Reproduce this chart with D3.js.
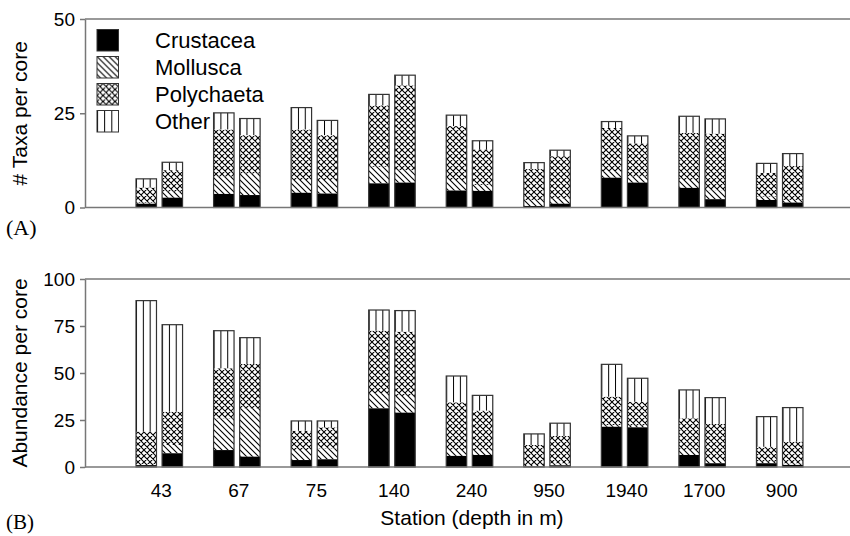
<!DOCTYPE html>
<html>
<head>
<meta charset="utf-8">
<script src="https://cdn.jsdelivr.net/npm/d3@7"></script>
<style>
  body { margin: 0; background: #fff; }
  text { font-family: "Liberation Sans", Arial, sans-serif; fill: #000; }
</style>
</head>
<body>
<div id="chart"></div>
<script>
// stations (depth in m), two cores per station
var stations = ["43", "67", "75", "140", "240", "950", "1940", "1700", "900"];
var cores = [0, 1];
var taxa = ["Crustacea", "Mollusca", "Polychaeta", "Other"];

// panel A: # taxa per core, station order core1, core2, ...
var taxaCrustacea  = [1.0, 2.6, 3.6, 3.3, 3.9, 3.7, 6.4, 6.6, 4.5, 4.4, 0.4, 1.0, 7.9, 6.6, 5.2, 2.2, 2.0, 1.3];
var taxaMollusca   = [0.3, 1.6, 4.6, 5.7, 3.4, 3.6, 4.4, 3.3, 2.8, 1.6, 1.6, 1.4, 1.6, 1.6, 2.1, 2.4, 0.9, 0.7];
var taxaPolychaeta = [4.0, 5.7, 12.5, 10.2, 13.4, 11.9, 16.3, 22.5, 14.3, 9.4, 8.2, 11.2, 11.6, 8.8, 12.5, 15.0, 6.3, 9.0];
var taxaOther      = [2.3, 2.1, 4.4, 4.4, 5.8, 3.9, 2.9, 2.7, 2.9, 2.3, 1.7, 1.6, 1.7, 2.0, 4.4, 3.9, 2.5, 3.3];

// panel B: abundance per core
var abunCrustacea  = [1.0, 7.3, 9.0, 5.5, 3.7, 4.1, 31.2, 28.9, 5.9, 6.4, 0.3, 0.9, 21.4, 21.1, 6.4, 2.0, 2.0, 1.1];
var abunMollusca   = [0.6, 4.4, 16.9, 25.7, 5.3, 5.8, 8.0, 8.9, 3.1, 2.6, 0.8, 1.1, 0.9, 0.9, 2.6, 1.7, 0.8, 0.9];
var abunPolychaeta = [17.2, 17.7, 26.6, 23.6, 10.3, 11.2, 33.3, 34.2, 25.4, 21.0, 10.6, 14.5, 15.1, 12.7, 16.9, 19.2, 8.0, 11.5];
var abunOther      = [69.7, 46.3, 20.0, 14.0, 5.2, 3.4, 11.0, 11.2, 14.0, 8.1, 5.9, 6.8, 17.2, 12.5, 15.1, 14.0, 16.0, 18.1];

var taxaTicks = [0, 25, 50];
var abunTicks = [0, 25, 50, 75, 100];

var W = 850, H = 536;
var svg = d3.select("#chart").append("svg")
    .attr("width", W)
    .attr("height", H);

// fill patterns
var defs = svg.append("defs");
var diag = defs.append("pattern")
    .attr("id", "pat-moll")
    .attr("patternUnits", "userSpaceOnUse")
    .attr("width", 6).attr("height", 6);
diag.append("path")
    .attr("d", "M0,0L6,6M-1,5L1,7M5,-1L7,1")
    .attr("stroke", "#000").attr("stroke-width", 1.1);

var cross = defs.append("pattern")
    .attr("id", "pat-poly")
    .attr("patternUnits", "userSpaceOnUse")
    .attr("width", 6).attr("height", 6);
cross.append("path")
    .attr("d", "M0,0L6,6M-1,5L1,7M5,-1L7,1M0,6L6,0M-1,1L1,-1M5,7L7,5")
    .attr("stroke", "#000").attr("stroke-width", 1.1);

// vertical lines: 3 tiles across each bar so lines sit at 1/3 and 2/3
var vert = defs.append("pattern")
    .attr("id", "pat-other")
    .attr("patternUnits", "objectBoundingBox")
    .attr("width", 1 / 3).attr("height", 1);
vert.append("rect").attr("width", 40).attr("height", 2000).attr("fill", "#fff");
vert.append("path")
    .attr("d", "M0.5,0V2000")
    .attr("stroke", "#000").attr("stroke-width", 1);

var fills = {
  "Crustacea": "#000",
  "Mollusca": "url(#pat-moll)",
  "Polychaeta": "url(#pat-poly)",
  "Other": "url(#pat-other)"
};

var left = 85, right = 850;
var frameColor = "#777";

var x = d3.scaleBand()
    .domain(stations)
    .range([105, 834])
    .padding(0.4);
var xc = d3.scaleBand()
    .domain(cores)
    .range([0, x.bandwidth()])
    .paddingInner(0.215);

function buildRows(cr, mo, po, ot) {
  var rows = [];
  stations.forEach(function(s, i) {
    cores.forEach(function(c) {
      var k = i * 2 + c;
      rows.push({station: s, core: c,
        Crustacea: cr[k], Mollusca: mo[k], Polychaeta: po[k], Other: ot[k]});
    });
  });
  return rows;
}

function drawPanel(rows, yMax, yTop, yBottom, ticks, title) {
  var y = d3.scaleLinear().domain([0, yMax]).range([yBottom, yTop]);
  var g = svg.append("g");

  var stack = d3.stack().keys(taxa)(rows);

  g.selectAll("g.layer")
    .data(stack)
    .enter().append("g")
      .attr("class", "layer")
      .attr("fill", function(d) { return fills[d.key]; })
    .selectAll("rect")
    .data(function(d) { return d; })
    .enter().append("rect")
      .attr("x", function(d) { return x(d.data.station) + xc(d.data.core); })
      .attr("y", function(d) { return y(d[1]); })
      .attr("width", xc.bandwidth())
      .attr("height", function(d) { return y(d[0]) - y(d[1]); });

  // outline of each whole bar
  g.selectAll("rect.outline")
    .data(rows)
    .enter().append("rect")
      .attr("class", "outline")
      .attr("x", function(d) { return x(d.station) + xc(d.core); })
      .attr("y", function(d) { return y(d.Crustacea + d.Mollusca + d.Polychaeta + d.Other); })
      .attr("width", xc.bandwidth())
      .attr("height", function(d) { return yBottom - y(d.Crustacea + d.Mollusca + d.Polychaeta + d.Other); })
      .attr("fill", "none")
      .attr("stroke", "#333")
      .attr("stroke-width", 1.2);

  // frame: left axis, top and bottom lines
  var ax = g.append("g")
      .attr("transform", "translate(" + left + ",0)")
      .call(d3.axisLeft(y).tickValues(ticks).tickSize(5).tickSizeOuter(0).tickPadding(5));
  ax.select(".domain").attr("stroke", frameColor).attr("stroke-width", 1.5);
  ax.selectAll(".tick line").attr("stroke", frameColor).attr("stroke-width", 1.5);
  ax.selectAll(".tick text")
      .style("font-size", "19px")
      .style("font-family", "'Liberation Sans', Arial, sans-serif")
      .attr("fill", "#000");

  g.append("line")
    .attr("x1", left).attr("x2", right)
    .attr("y1", yTop).attr("y2", yTop)
    .attr("stroke", frameColor).attr("stroke-width", 1.5);
  g.append("line")
    .attr("x1", left).attr("x2", right)
    .attr("y1", yBottom).attr("y2", yBottom)
    .attr("stroke", frameColor).attr("stroke-width", 1.5);

  g.append("text")
    .attr("transform", "translate(27," + ((yTop + yBottom) / 2) + ") rotate(-90)")
    .attr("text-anchor", "middle")
    .style("font-size", "21px")
    .text(title);

  return y;
}

drawPanel(buildRows(taxaCrustacea, taxaMollusca, taxaPolychaeta, taxaOther),
  50, 19, 207.5, taxaTicks, "# Taxa per core");
drawPanel(buildRows(abunCrustacea, abunMollusca, abunPolychaeta, abunOther),
  100, 279, 467, abunTicks, "Abundance per core");

// legend
var legend = svg.append("g").attr("transform", "translate(97,29.5)");
var item = legend.selectAll("g")
    .data(taxa)
    .enter().append("g")
      .attr("transform", function(d, i) { return "translate(0," + (i * 27) + ")"; });
item.append("rect")
    .attr("width", 21.5).attr("height", 21.5)
    .attr("fill", function(d) { return fills[d]; })
    .attr("stroke", "#333").attr("stroke-width", 1);
item.append("text")
    .attr("x", 58).attr("y", 18.5)
    .style("font-size", "22px")
    .text(function(d) { return d; });

// station labels under panel B
svg.append("g").selectAll("text")
  .data(stations)
  .enter().append("text")
    .attr("x", function(d) { return x(d) + x.bandwidth() / 2 + 2; })
    .attr("y", 497)
    .attr("text-anchor", "middle")
    .style("font-size", "19px")
    .text(function(d) { return d; });

svg.append("text")
  .attr("x", 472).attr("y", 525)
  .attr("text-anchor", "middle")
  .style("font-size", "21px")
  .text("Station (depth in m)");

svg.append("text")
  .attr("x", 6).attr("y", 235)
  .style("font-family", "'Liberation Serif', 'Times New Roman', serif")
  .style("font-size", "22px")
  .text("(A)");
svg.append("text")
  .attr("x", 6).attr("y", 529)
  .style("font-family", "'Liberation Serif', 'Times New Roman', serif")
  .style("font-size", "21px")
  .text("(B)");
</script>
</body>
</html>
